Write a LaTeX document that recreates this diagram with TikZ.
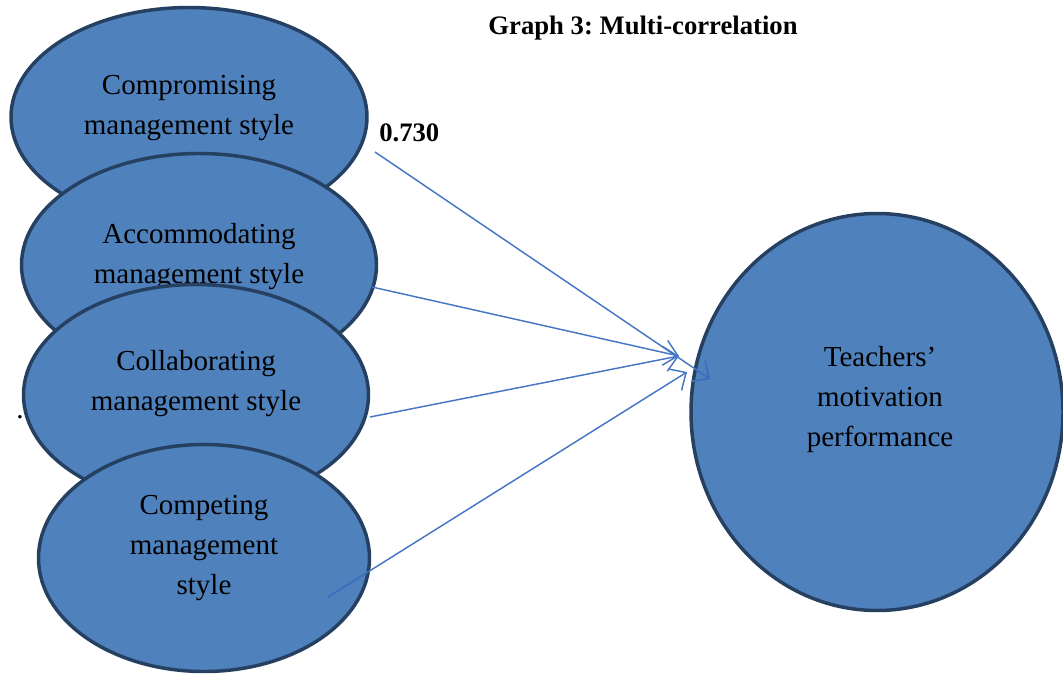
\documentclass[tikz,border=0pt]{standalone}
\usepackage{fontspec}
\setmainfont{Liberation Serif}
\frenchspacing
\usetikzlibrary{shapes.geometric,arrows.meta}
\definecolor{ellfill}{RGB}{79,129,189}
\definecolor{elldraw}{RGB}{37,64,97}
\definecolor{arrcol}{RGB}{70,118,196}
\definecolor{arrin}{RGB}{60,108,192}
\begin{document}
\begin{tikzpicture}[x=0.75pt,y=-0.75pt,
  ell/.style={ellipse, fill=ellfill, draw=elldraw, line width=2.6pt, inner sep=0pt},
  lbl/.style={align=center, font=\fontsize{21.75pt}{30pt}\selectfont, inner sep=0pt},
  boldlbl/.style={font=\bfseries\fontsize{20pt}{24pt}\selectfont, inner sep=0pt},
  conn/.style={draw=arrcol, line width=1.1pt, -{Straight Barb[length=10pt,width=19pt]}}]
\useasboundingbox (0,0) rectangle (1063,679);
\clip (0,0) rectangle (1063,679);

% title
\node[boldlbl] (title) at (643,28) {Graph 3: Multi-correlation};

% left ellipses
\node[ell, minimum width=267pt, minimum height=164.25pt] (e1) at (189,117) {};
\node[lbl] (t1) at (189,108) {Compromising\\management style};
\node[ell, minimum width=266.25pt, minimum height=167.25pt] (e2) at (199,265) {};
\node[lbl] (t2) at (199,257) {Accommodating\\management style};
\node[ell, minimum width=258.75pt, minimum height=165.75pt] (e3) at (196,395) {};
\node[lbl] (t3) at (196,384) {Collaborating\\management style};
\node[ell, minimum width=248.25pt, minimum height=170.25pt] (e4) at (204,558) {};
\node[lbl] (t4) at (204,548) {Competing\\management\\style};

% stray dot
\node[lbl, anchor=base] (dot) at (20,418) {.};

% value label
\node[boldlbl, anchor=west] (val) at (379,133) {0.730};

% target circle
\node[ell, minimum width=279pt, minimum height=297.75pt] (tm) at (877,412) {};
\node[lbl] (tt) at (880,400) {Teachers’\\motivation\\performance};

% connector end points
\coordinate (s1) at (375,152);
\coordinate (s2) at (372,287);
\coordinate (s3) at (370,417);
\coordinate (s4) at (328,597);
\coordinate (p1) at (710,379);
\coordinate (p23) at (679,356);
\coordinate (p4) at (687,372);

% connectors
\draw[conn] (s1) -- (p1);
\draw[conn] (s2) -- (p23);
\draw[conn] (s3) -- (p23);
\draw[conn] (s4) -- (p4);

% parts of connectors lying inside shapes
\begin{scope}
  \clip (tm.center) ellipse [x radius=138.2pt, y radius=147.6pt];
  \draw[conn, draw=arrin] (s1) -- (p1);
\end{scope}
\begin{scope}
  \clip (e4.center) ellipse [x radius=122.8pt, y radius=84pt];
  \draw[conn, draw=arrin, -] (s4) -- (p4);
\end{scope}
\end{tikzpicture}
\end{document}
